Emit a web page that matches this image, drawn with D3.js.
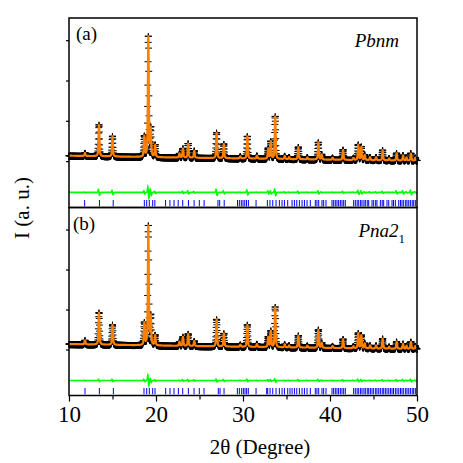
<!DOCTYPE html>
<html lang="en">
<head>
<meta charset="UTF-8">
<title>XRD Rietveld refinement</title>
<script src="https://d3js.org/d3.v7.min.js"></script>
<style>
  body { margin: 0; background: #fff; }
  svg { display: block; font-family: "Liberation Serif", "Times New Roman", serif; }
  .frame { fill: none; stroke: #000; stroke-width: 1.5px; }
  .obs { fill: none; stroke: #000; stroke-width: 1px; }
  .calc { fill: none; stroke: #ff8000; stroke-width: 2.2px; stroke-linejoin: round; }
  .diff { fill: none; stroke: #00ff00; stroke-width: 1.6px; }
  .bragg { stroke: #0000ff; stroke-width: 1px; }
  .axis path { display: none; }
  .axis line { stroke: #000; stroke-width: 1.2px; }
  .axis text { font-family: "Liberation Serif", serif; font-size: 23px; fill: #000; }
</style>
</head>
<body>
<svg width="463" height="463"></svg>
<script>
// ---- data (2theta in degrees, intensity in counts) ----
const bgPos = [10, 15, 20, 25, 30, 35, 40, 45, 50];
const bgValA = [270, 230, 190, 160, 130, 100, 70, 45, 20];
const bgValB = [270, 235, 195, 165, 135, 105, 75, 50, 25];

const peakPosA = [11.84, 13.45, 15.00, 18.66, 19.12, 19.40, 19.90, 22.70, 23.10, 23.70,
  24.40, 26.97, 27.80, 29.70, 30.50, 31.60, 32.90, 33.20, 33.70, 34.80,
  35.30, 36.36, 37.40, 38.66, 39.05, 40.30, 41.50, 42.70, 43.25, 43.60,
  44.00, 44.60, 45.30, 46.05, 46.80, 47.66, 48.40, 48.80, 49.30, 49.80];
const peakIntA = [150, 1550, 1000, 1000, 5950, 1350, 600, 200, 450, 700,
  350, 1250, 700, 100, 1100, 150, 500, 850, 2100, 150,
  100, 600, 100, 850, 250, 100, 500, 100, 750, 650,
  250, 150, 150, 500, 100, 350, 250, 150, 350, 150];
const misfitA = [20, 150, 100, 80, 280, 150, 60, 20, 60, 80,
  40, 150, 80, 20, 120, 20, 80, 80, 150, 30,
  20, 60, 20, 80, 30, 20, 50, 20, 100, 80,
  30, 30, 30, 60, 20, 80, 80, 30, 100, 30];

const peakPosB = [11.84, 13.45, 15.00, 18.66, 19.12, 19.40, 19.90, 22.70, 23.10, 23.70,
  24.40, 26.97, 27.80, 29.70, 30.50, 31.60, 32.90, 33.20, 33.70, 34.80,
  35.30, 36.36, 37.40, 38.66, 39.05, 40.30, 41.50, 42.70, 43.25, 43.60,
  44.00, 44.60, 45.30, 46.05, 46.80, 47.66, 48.40, 48.80, 49.30, 49.80];
const peakIntB = [200, 1600, 1000, 1100, 5950, 1400, 500, 200, 450, 600,
  250, 1350, 650, 100, 1100, 150, 500, 800, 2000, 150,
  100, 600, 100, 900, 250, 100, 450, 100, 750, 650,
  250, 150, 150, 500, 100, 350, 250, 150, 350, 150];
const misfitB = [20, 60, 60, 60, 260, 100, 40, 20, 40, 50,
  30, 80, 50, 20, 60, 20, 40, 50, 80, 20,
  20, 40, 20, 50, 20, 20, 40, 20, 60, 50,
  20, 20, 20, 40, 20, 40, 50, 20, 60, 20];

const braggA = [11.80, 13.50, 15.08, 18.66, 18.93, 19.23, 19.62, 19.87, 21.10, 21.60,
  22.07, 22.55, 23.07, 23.73, 24.38, 24.98, 25.53, 27.12, 27.32, 27.84,
  29.37, 29.58, 29.80, 30.00, 30.20, 30.40, 30.62, 31.50, 32.80, 33.10,
  33.42, 33.80, 34.18, 34.49, 34.76, 35.14, 35.64, 35.91, 36.18, 36.48,
  36.79, 37.06, 37.36, 37.74, 38.31, 38.50, 38.70, 39.08, 39.27, 39.54,
  40.23, 40.42, 40.61, 40.80, 40.99, 41.19, 41.38, 41.57, 41.76, 42.72,
  42.91, 43.12, 43.30, 43.52, 43.68, 43.90, 44.06, 44.28, 44.45, 44.83,
  45.02, 45.25, 45.40, 45.79, 46.00, 46.17, 46.55, 46.75, 47.13, 47.30,
  47.51, 47.90, 48.10, 48.28, 48.47, 48.70, 48.85, 49.05, 49.24, 49.45,
  49.62, 49.81];
const braggB = [11.84, 13.49, 15.10, 18.62, 18.93, 19.23, 19.62, 19.89, 21.11, 21.61,
  22.07, 22.57, 23.07, 23.72, 24.37, 24.98, 25.52, 27.16, 27.36, 27.82,
  29.35, 29.58, 29.85, 30.04, 30.23, 30.42, 30.61, 31.50, 32.72, 32.84,
  33.11, 33.42, 33.80, 34.18, 34.49, 34.76, 35.14, 35.40, 35.64, 35.91,
  36.18, 36.48, 36.79, 37.06, 37.36, 37.74, 38.31, 38.50, 38.70, 39.08,
  39.27, 39.54, 40.23, 40.42, 40.61, 40.80, 40.99, 41.19, 41.38, 41.57,
  41.76, 42.72, 42.91, 43.12, 43.30, 43.52, 43.68, 43.90, 44.06, 44.28,
  44.45, 44.64, 44.83, 45.02, 45.25, 45.40, 45.60, 45.79, 46.00, 46.17,
  46.36, 46.55, 46.75, 46.94, 47.13, 47.30, 47.51, 47.70, 47.90, 48.10,
  48.28, 48.47, 48.70, 48.85, 49.05, 49.24, 49.45, 49.62, 49.81];

const xTicks = [10, 20, 30, 40, 50];
const xMinor = [15, 25, 35, 45];
const yTicks = [0, 2000, 4000, 6000];
const panelLabels = ["(a)", "(b)"];
const diffOffset = -1550;

// ---- layout ----
const svg = d3.select("svg");
const x = d3.scaleLinear().domain([10, 50]).range([69, 417]);
const panels = [
  { top: 18, bottom: 207.5, bg: bgValA, pos: peakPosA, ints: peakIntA, mis: misfitA, bragg: braggA },
  { top: 207.5, bottom: 395.5, bg: bgValB, pos: peakPosB, ints: peakIntB, mis: misfitB, bragg: braggB }
];

const fwhm = 0.13, eta = 0.5, sDiff = 0.06;
function pv(dx) {
  const u = dx / fwhm;
  return eta / (1 + 4 * u * u) + (1 - eta) * Math.exp(-4 * Math.LN2 * u * u);
}
function dshape(dx) {
  const u = dx / sDiff;
  return -u * Math.exp(0.5 - 0.5 * u * u);
}

panels.forEach((p, k) => {
  const y = d3.scaleLinear().domain([-2300, 7100]).range([p.bottom, p.top]);
  const bg = d3.scaleLinear().domain(bgPos).range(p.bg);
  const grid = d3.range(10, 50.0001, 0.02).concat(p.pos).sort(d3.ascending);

  const pts = grid.map(t => {
    let c = bg(t), d = 0;
    p.pos.forEach((q, i) => {
      c += p.ints[i] * pv(t - q);
      if (Math.abs(t - q) < 0.5) d += p.mis[i] * dshape(t - q);
    });
    return { t, calc: c, obs: c + d, diff: d };
  });

  const g = svg.append("g");

  // observed: crosses
  let crossPath = "";
  pts.forEach(d => {
    const px = x(d.t), py = y(d.obs);
    crossPath += `M${(px - 3.5).toFixed(2)},${py.toFixed(2)}h7M${px.toFixed(2)},${(py - 3).toFixed(2)}v7`;
  });
  g.append("path").attr("class", "obs").attr("d", crossPath);

  // calculated
  g.append("path").attr("class", "calc")
    .attr("d", d3.line().x(d => x(d.t)).y(d => y(d.calc))(pts));

  // difference
  g.append("path").attr("class", "diff")
    .attr("d", d3.line().x(d => x(d.t)).y(d => y(diffOffset + d.diff))(pts));

  // Bragg positions
  g.selectAll("line.bragg").data(p.bragg).join("line")
    .attr("class", "bragg")
    .attr("x1", d => x(d)).attr("x2", d => x(d))
    .attr("y1", p.bottom - 7.5).attr("y2", p.bottom - 1.2);

  // left ticks
  svg.append("g").attr("class", "axis")
    .attr("transform", `translate(${x(10)},0)`)
    .call(d3.axisLeft(y).tickValues(yTicks).tickSize(3).tickFormat(""));

  // frame
  svg.append("rect").attr("class", "frame")
    .attr("x", x(10)).attr("y", p.top)
    .attr("width", x(50) - x(10)).attr("height", p.bottom - p.top);

  // panel label
  svg.append("text").attr("x", k === 0 ? 76 : 73).attr("y", p.top + 22)
    .attr("font-size", 19).text(panelLabels[k]);
});

// space-group labels
svg.append("text").attr("x", 399).attr("y", 47).attr("text-anchor", "end")
  .attr("font-size", 19).attr("font-style", "italic").text("Pbnm");
const sg = svg.append("text").attr("x", 405).attr("y", 237).attr("text-anchor", "end")
  .attr("font-size", 19);
sg.append("tspan").attr("font-style", "italic").text("Pna2");
sg.append("tspan").attr("font-size", 13).attr("dy", 6).text("1");

// bottom axis
const yb = panels[1].bottom;
svg.append("g").attr("class", "axis")
  .attr("transform", `translate(0,${yb})`)
  .call(d3.axisBottom(x).tickValues(xTicks).tickSize(6).tickPadding(4).tickFormat(d3.format("d")));
svg.append("g").attr("class", "axis")
  .attr("transform", `translate(0,${yb})`)
  .call(d3.axisBottom(x).tickValues(xMinor).tickSize(4).tickFormat(""));

// axis titles
svg.append("text").attr("x", 260).attr("y", 454).attr("text-anchor", "middle")
  .attr("font-size", 21).text("2θ (Degree)");
svg.append("text").attr("transform", "translate(29,208) rotate(-90)")
  .attr("text-anchor", "middle").attr("font-size", 21).text("I (a. u.)");
</script>
</body>
</html>
